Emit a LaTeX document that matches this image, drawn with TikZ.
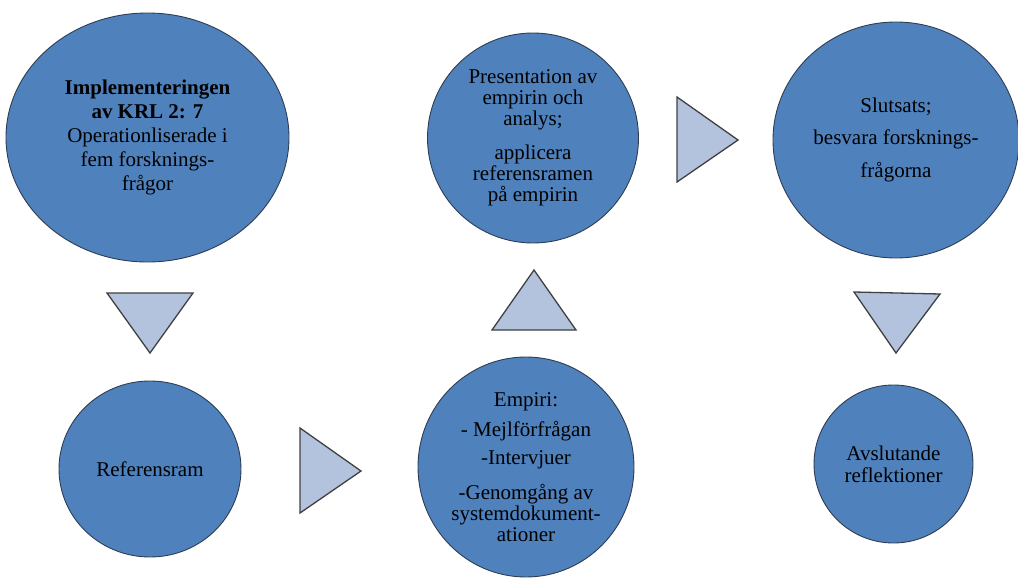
\documentclass[tikz,border=0pt]{standalone}
\usepackage{fontspec}
\setmainfont{Liberation Serif}
\usetikzlibrary{shapes.geometric}

\definecolor{stageblue}{HTML}{4F81BD}
\definecolor{stageline}{HTML}{2E3D52}
\definecolor{pointerfill}{HTML}{B3C3DE}
\definecolor{pointerline}{HTML}{404040}

\tikzset{
  stage/.style={ellipse, draw=stageline, line width=0.9pt, fill=stageblue, inner sep=0pt},
  stagetext/.style={align=center, text=black, inner sep=0pt},
  pointer/.style={draw=pointerline, line width=1.3pt, fill=pointerfill, line join=miter},
}

\begin{document}
\begin{tikzpicture}[x=1pt, y=-1pt]
  \useasboundingbox (0,0) rectangle (1018,578);

  % stages
  \node[stage, minimum width=283pt, minimum height=249pt] (impl) at (147.5,137.5) {};
  \node[stagetext, font=\fontsize{21}{24}\selectfont] (impl-t) at (impl.center)
    {\textbf{Implementeringen}\\ \textbf{av KRL 2: 7}\\ Operationliserade i\\ fem forsknings-\\ frågor};

  \node[stage, minimum width=182pt, minimum height=176pt] (ref) at (150,469) {};
  \node[stagetext, font=\fontsize{21}{24}\selectfont] (ref-t) at (ref.center) {Referensram};

  \node[stage, minimum width=216pt, minimum height=220pt] (emp) at (526,467) {};
  \node[stagetext, font=\fontsize{21}{21}\selectfont] (emp-t) at (emp.center)
    {Empiri:\\[9pt] - Mejlförfrågan\\[7pt] -Intervjuer\\[14pt] -Genomgång av\\ systemdokument-\\ ationer};

  \node[stage, minimum width=211pt, minimum height=210pt] (pres) at (533,138) {};
  \node[stagetext, font=\fontsize{21}{21}\selectfont] (pres-t) at (pres.center)
    {Presentation av\\ empirin och\\ analys;\\[13pt] applicera\\ referensramen\\ på empirin};

  \node[stage, minimum width=246pt, minimum height=236pt] (concl) at (896,140) {};
  \node[stagetext, font=\fontsize{21}{21}\selectfont] (concl-t) at (concl.center)
    {Slutsats;\\[11pt] besvara forsknings-\\[12pt] frågorna};

  \node[stage, minimum width=159pt, minimum height=158pt] (refl) at (893.5,464) {};
  \node[stagetext, font=\fontsize{21}{22}\selectfont] (refl-t) at (refl.center)
    {Avslutande\\ reflektioner};

  % direction pointers between the stages
  \draw[pointer] (107,293) -- (193,293) -- (150,353) -- cycle;
  \draw[pointer] (300,428) -- (361,471) -- (300,513) -- cycle;
  \draw[pointer] (492,330) -- (534,270) -- (576,330) -- cycle;
  \draw[pointer] (677,97) -- (738,140) -- (677,182) -- cycle;
  \draw[pointer] (854,292) -- (940,294) -- (896,353) -- cycle;
\end{tikzpicture}
\end{document}
